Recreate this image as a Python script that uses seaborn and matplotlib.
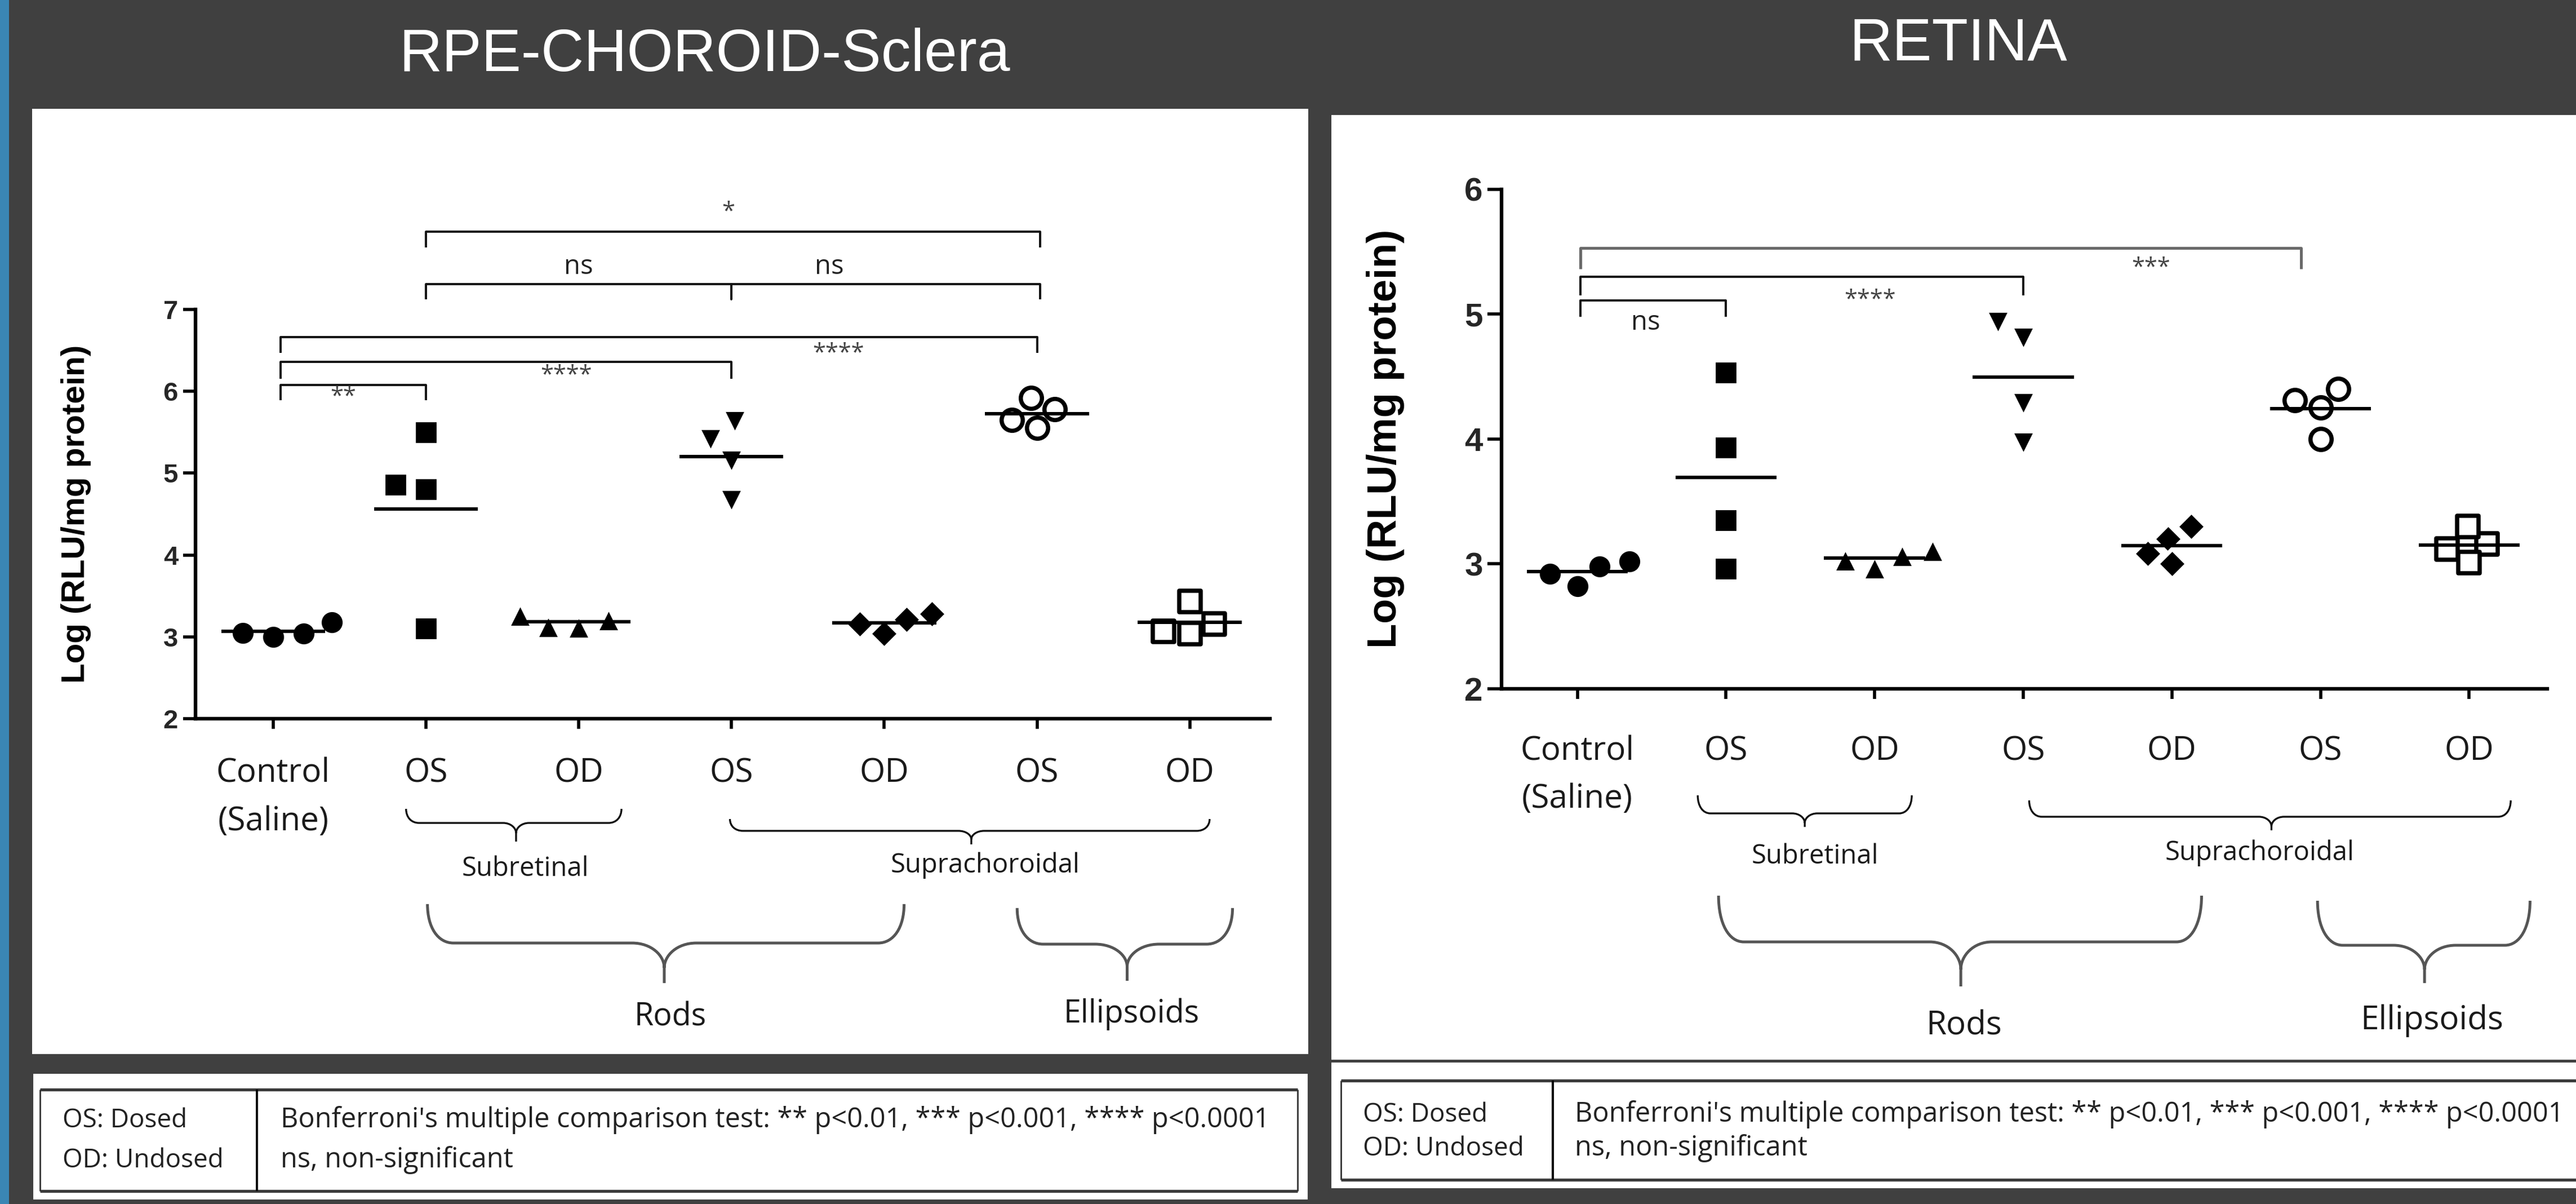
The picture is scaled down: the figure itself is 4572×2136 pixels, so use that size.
import numpy as np
import pandas as pd
import seaborn as sns
import matplotlib.pyplot as plt
import matplotlib.transforms as mtransforms
from matplotlib.patches import Rectangle, PathPatch
from matplotlib.path import Path
from matplotlib.lines import Line2D

# ---- data (log RLU / mg protein) ----
groups = ['Control', 'Sub OS', 'Sub OD', 'Supra OS', 'Supra OD', 'Ell OS', 'Ell OD']
tick_labels = ['Control\n(Saline)', 'OS', 'OD', 'OS', 'OD', 'OS', 'OD']

rpe_control = [3.05, 3.00, 3.04, 3.18]
rpe_sub_os = [5.50, 4.86, 4.80, 3.10]
rpe_sub_od = [3.21, 3.12, 3.13, 3.27]
rpe_supra_os = [5.62, 5.40, 5.14, 4.66]
rpe_supra_od = [3.21, 3.04, 3.16, 3.28]
rpe_ell_os = [5.78, 5.92, 5.55, 5.65]
rpe_ell_od = [3.16, 3.43, 3.04, 3.07]

ret_control = [2.98, 2.82, 2.92, 3.02]
ret_sub_os = [4.53, 3.93, 3.35, 2.96]
ret_sub_od = [3.07, 2.97, 3.03, 3.11]
ret_supra_os = [4.93, 4.80, 4.28, 3.96]
ret_supra_od = [3.20, 3.30, 3.00, 3.08]
ret_ell_os = [4.31, 4.25, 4.40, 4.00]
ret_ell_od = [3.16, 3.30, 3.01, 3.12]

rpe_values = [rpe_control, rpe_sub_os, rpe_sub_od, rpe_supra_os, rpe_supra_od, rpe_ell_os, rpe_ell_od]
ret_values = [ret_control, ret_sub_os, ret_sub_od, ret_supra_os, ret_supra_od, ret_ell_os, ret_ell_od]


def to_frame(values):
    rows = [(g, v) for g, vals in zip(groups, values) for v in vals]
    return pd.DataFrame(rows, columns=['group', 'value'])


rpe = to_frame(rpe_values)
ret = to_frame(ret_values)

# marker, face colour, edge colour, edge width, size
# (filled markers get a white rim so the swarm spreads them like the original)
styles = {
    'Control': ('o', 'black', 'white', 2.6, 16),
    'Sub OS': ('s', 'black', 'white', 2.6, 16),
    'Sub OD': ('^', 'black', 'white', 2.6, 16),
    'Supra OS': ('v', 'black', 'white', 2.6, 16),
    'Supra OD': ('D', 'black', 'white', 2.6, 13.5),
    'Ell OS': ('o', 'white', 'black', 2.7, 13.5),
    'Ell OD': ('s', 'white', 'black', 2.7, 13.5),
}

sns.set_style('white')
plt.rcParams['font.family'] = ['Open Sans', 'DejaVu Sans']

W, H = 4572, 2136
BG = '#404040'
fig = plt.figure(figsize=(W / 200, H / 200), dpi=200, facecolor=BG)


def fx(x):
    return x / W


def fy(y):
    return 1 - y / H


def rect(x0, y0, x1, y1, color):
    fig.add_artist(Rectangle((fx(x0), fy(y1)), fx(x1 - x0), (y1 - y0) / H,
                             transform=fig.transFigure, facecolor=color,
                             edgecolor='none', zorder=-5))


def hline(x0, x1, y, color, lw):
    fig.add_artist(Line2D([fx(x0), fx(x1)], [fy(y), fy(y)], transform=fig.transFigure,
                          color=color, lw=lw, solid_capstyle='butt'))


def vline(x, y0, y1, color, lw):
    fig.add_artist(Line2D([fx(x), fx(x)], [fy(y0), fy(y1)], transform=fig.transFigure,
                          color=color, lw=lw, solid_capstyle='butt'))


# background pieces
rect(0, 0, 16, H, '#3a86b4')
rect(57, 193, 2322, 1870, 'white')
rect(59, 1905, 2321, 2128, 'white')
rect(2363, 204, W, 1880, 'white')
rect(2363, 1885, W, 2108, 'white')

fig.text(fx(1251), fy(98), 'RPE-CHOROID-Sclera', color='white', fontsize=38,
         family='Liberation Sans', ha='center', va='center')
fig.text(fx(3476), fy(79), 'RETINA', color='white', fontsize=38,
         family='Liberation Sans', ha='center', va='center')


def draw_panel(ax, df, ytop, yspine, ylab_size, ytick_size, xpad, ylen):
    for g in groups:
        mk, fc, ec, lw, sz = styles[g]
        sns.swarmplot(data=df[df['group'] == g], x='group', y='value', order=groups,
                      ax=ax, marker=mk, color=fc, edgecolor=ec, linewidth=lw,
                      size=sz, zorder=3)
    means = df.groupby('group')['value'].mean().reindex(groups)
    ax.hlines(means.values, np.arange(len(groups)) - 0.34, np.arange(len(groups)) + 0.34,
              color='black', lw=2.2, zorder=4)

    ax.set_xlim(-0.51, 6.525)
    ax.set_ylim(2, ytop)
    ax.set_xlabel('')
    ax.set_ylabel('')
    ax.patch.set_alpha(0)
    for s in ['top', 'right']:
        ax.spines[s].set_visible(False)
    for s in ['left', 'bottom']:
        ax.spines[s].set_color('black')
        ax.spines[s].set_linewidth(2.3)
    ax.spines['left'].set_bounds(2, yspine)
    ax.set_yticks(range(2, yspine + 1))
    ax.set_xticks(range(len(groups)))
    ax.set_xticklabels(tick_labels, fontsize=21, color='#1a1a1a', linespacing=1.6)
    ax.tick_params(axis='x', direction='out', length=6.5, width=2, pad=xpad,
                   bottom=True, color='black')
    ax.tick_params(axis='y', direction='out', length=ylen, width=2, pad=3,
                   left=True, color='black', labelsize=ytick_size)
    for lab in ax.get_yticklabels():
        lab.set_fontfamily('Liberation Sans')
        lab.set_fontweight('bold')
    tr = mtransforms.blended_transform_factory(ax.transAxes, ax.transData)
    ax.text(-0.111, (2 + yspine) / 2, 'Log (RLU/mg protein)', transform=tr, rotation=90,
            ha='center', va='center', fontsize=ylab_size, fontweight='bold',
            family='Liberation Sans', color='black')


def bracket(ax, xs, ybar, ydrop, color='#111111', lw=1.4):
    ax.plot([xs[0], xs[0], xs[-1], xs[-1]], [ydrop, ybar, ybar, ydrop],
            color=color, lw=lw, clip_on=False, solid_capstyle='butt', zorder=2)
    for x in xs[1:-1]:
        ax.plot([x, x], [ybar, ydrop], color=color, lw=lw, clip_on=False, zorder=2)


def brace(ax, x0, x1, xm, y_top, y_flat, y_v, y_tip, r, vr, color, lw):
    tr = mtransforms.blended_transform_factory(ax.transData, fig.transFigure)
    yt, yf, yv, yp = fy(y_top), fy(y_flat), fy(y_v), fy(y_tip)
    verts = [(x0, yt), (x0, yt + (yf - yt) * 0.6), (x0 + r * 0.4, yf), (x0 + r, yf),
             (xm - vr, yf),
             (xm - vr * 0.4, yf), (xm, yf + (yv - yf) * 0.5), (xm, yv),
             (xm, yp),
             (xm, yv),
             (xm, yf + (yv - yf) * 0.5), (xm + vr * 0.4, yf), (xm + vr, yf),
             (x1 - r, yf),
             (x1 - r * 0.4, yf), (x1, yt + (yf - yt) * 0.6), (x1, yt)]
    C, L, M = Path.CURVE4, Path.LINETO, Path.MOVETO
    codes = [M, C, C, C, L, C, C, C, L, M, C, C, C, L, C, C, C]
    fig.add_artist(PathPatch(Path(verts, codes), transform=tr, fill=False,
                             edgecolor=color, lw=lw, capstyle='butt'))


def brace_text(ax, x, y, s, size):
    tr = mtransforms.blended_transform_factory(ax.transData, fig.transFigure)
    ax.text(x, fy(y), s, transform=tr, ha='center', va='center', fontsize=size,
            color='#1a1a1a')


# ---- left panel: RPE-CHOROID-Sclera ----
ax1 = fig.add_axes([0.0758, 0.4031, 0.4172, 0.4419])
draw_panel(ax1, rpe, 8.5, 7, 21, 17, 18, 8)

bracket(ax1, [0.05, 1.0], 6.08, 5.89)
ax1.text(0.46, 5.93, '**', ha='center', va='center', fontsize=15, color='#444444')
bracket(ax1, [0.05, 3.0], 6.36, 6.15)
ax1.text(1.92, 6.19, '****', ha='center', va='center', fontsize=15, color='#444444')
bracket(ax1, [0.05, 5.0], 6.66, 6.47)
ax1.text(3.70, 6.46, '****', ha='center', va='center', fontsize=15, color='#444444')
bracket(ax1, [1.0, 3.0, 5.02], 7.31, 7.12)
ax1.text(2.0, 7.52, 'ns', ha='center', va='center', fontsize=17, color='#222222')
ax1.text(3.64, 7.52, 'ns', ha='center', va='center', fontsize=17, color='#222222')
bracket(ax1, [1.0, 5.02], 7.95, 7.76)
ax1.text(2.98, 8.19, '*', ha='center', va='center', fontsize=15, color='#444444')

brace(ax1, 0.87, 2.28, 1.59, 1435, 1460, 1478, 1493, 0.085, 0.085, '#111111', 1.2)
brace(ax1, 2.99, 6.13, 4.57, 1453, 1474, 1489, 1498, 0.085, 0.085, '#111111', 1.2)
brace(ax1, 1.01, 4.13, 2.56, 1604, 1673, 1717, 1744, 0.17, 0.21, '#555555', 1.8)
brace(ax1, 4.87, 6.28, 5.59, 1611, 1675, 1715, 1740, 0.17, 0.21, '#555555', 1.8)
brace_text(ax1, 1.65, 1541, 'Subretinal', 17)
brace_text(ax1, 4.66, 1535, 'Suprachoroidal', 17)
brace_text(ax1, 2.60, 1805, 'Rods', 20)
brace_text(ax1, 5.62, 1799, 'Ellipsoids', 20)

# ---- right panel: RETINA ----
ax2 = fig.add_axes([0.5829, 0.4281, 0.4059, 0.4459])
draw_panel(ax2, ret, 6.3, 6, 26, 21, 23, 9)

bracket(ax2, [0.02, 1.0], 5.11, 4.98)
ax2.text(0.46, 4.93, 'ns', ha='center', va='center', fontsize=17, color='#222222')
bracket(ax2, [0.02, 3.0], 5.30, 5.15)
ax2.text(1.97, 5.11, '****', ha='center', va='center', fontsize=15, color='#444444')
bracket(ax2, [0.02, 4.87], 5.53, 5.36, color='#6a6a6a', lw=1.8)
ax2.text(3.86, 5.37, '***', ha='center', va='center', fontsize=15, color='#444444')

brace(ax2, 0.81, 2.25, 1.53, 1411, 1443, 1460, 1467, 0.085, 0.085, '#111111', 1.2)
brace(ax2, 3.04, 6.28, 4.67, 1420, 1449, 1466, 1473, 0.085, 0.085, '#111111', 1.2)
brace(ax2, 0.95, 4.20, 2.58, 1589, 1671, 1720, 1750, 0.17, 0.21, '#555555', 1.8)
brace(ax2, 4.98, 6.41, 5.70, 1598, 1677, 1720, 1744, 0.17, 0.21, '#555555', 1.8)
brace_text(ax2, 1.60, 1519, 'Subretinal', 17)
brace_text(ax2, 4.59, 1513, 'Suprachoroidal', 17)
brace_text(ax2, 2.60, 1820, 'Rods', 21)
brace_text(ax2, 5.75, 1811, 'Ellipsoids', 21)

# ---- legend tables ----
for (x0, x1, y0, y1, xd, xa, xb, r1, r2) in [
        (71, 2303, 1933, 2113, 456, 111, 498, 2000, 2071),
        (2380, W + 20, 1917, 2093, 2756, 2419, 2795, 1990, 2050)]:
    hline(x0, x1, y0, '#3a3a3a', 1.9)
    hline(x0, x1, y1, '#3a3a3a', 1.9)
    vline(x0, y0, y1, '#333333', 1.0)
    vline(x1, y0, y1, '#333333', 1.0)
    vline(xd, y0, y1, '#000000', 1.4)
    fig.text(fx(xa), fy(r1), 'OS: Dosed', fontsize=16.5, color='#222222', va='baseline')
    fig.text(fx(xa), fy(r2), 'OD: Undosed', fontsize=16.5, color='#222222', va='baseline')
    fig.text(fx(xb), fy(r1),
             "Bonferroni's multiple comparison test: ** p<0.01, *** p<0.001, **** p<0.0001",
             fontsize=17.5, color='#222222', va='baseline')
    fig.text(fx(xb), fy(r2), 'ns, non-significant', fontsize=17.5, color='#222222',
             va='baseline')

fig.savefig('out.png', dpi=200, facecolor=BG)
